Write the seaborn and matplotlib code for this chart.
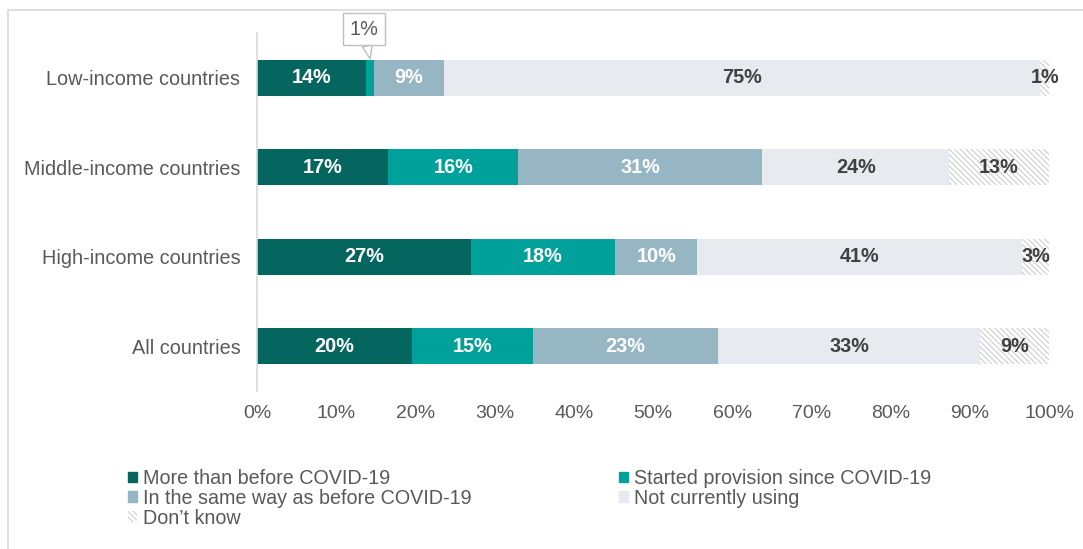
import matplotlib
matplotlib.use("Agg")
import numpy as np
import pandas as pd
import matplotlib.pyplot as plt
import matplotlib.patches as mpatches
import seaborn as sns

# Data (shares in %)
countries = ["Low-income countries", "Middle-income countries",
             "High-income countries", "All countries"]
series_names = ["More than before COVID-19", "Started provision since COVID-19",
                "In the same way as before COVID-19", "Not currently using",
                "Don\u2019t know"]
more_than_before = [13.8, 16.6, 27.0, 19.6]
started_since = [1.0, 16.4, 18.2, 15.2]
same_as_before = [8.8, 30.8, 10.4, 23.4]
not_using = [75.3, 23.6, 41.0, 33.1]
dont_know = [1.1, 12.6, 3.4, 8.7]

colors = ["#04665F", "#00A19A", "#96B6C3", "#E7EAEF", "white"]
label_colors = ["white", "white", "white", "#404040", "#404040"]
hatch_color = "#C8C8C8"
hatch = "\\" * 6

df = pd.DataFrame({
    "country": countries,
    series_names[0]: more_than_before,
    series_names[1]: started_since,
    series_names[2]: same_as_before,
    series_names[3]: not_using,
    series_names[4]: dont_know,
})
cum = df[series_names].cumsum(axis=1)

sns.set_style("white")
plt.rcParams["font.family"] = ["Liberation Sans", "DejaVu Sans"]
plt.rcParams["hatch.linewidth"] = 0.7

fig = plt.figure(figsize=(10.83, 5.49), dpi=100)
ax = fig.add_axes([257 / 1083, 1 - 391 / 549, (1049 - 257) / 1083, (391 - 33) / 549])

# Stacked bars: draw cumulative totals from the largest down so each overlays the previous
for i in range(len(series_names) - 1, -1, -1):
    kw = dict(color=colors[i], saturation=1, width=0.4, linewidth=0)
    if i == 4:
        kw.update(edgecolor=hatch_color, hatch=hatch)
    sns.barplot(x=cum[series_names[i]], y=df["country"], orient="h", ax=ax, **kw)

# Segment labels
for j in range(len(countries)):
    left = 0
    for i, name in enumerate(series_names):
        v = df.loc[j, name]
        if not (j == 0 and i == 1):
            ax.text(left + v / 2, j, f"{round(v)}%", ha="center", va="center",
                    fontsize=14.3, fontweight="bold", color=label_colors[i])
        left += v

# Callout for the thin 1% segment
ax.annotate("1%", xy=(14.3, -0.21), xytext=(13.45, -0.54), textcoords="data",
            ha="center", va="center", fontsize=14.3, color="#595959",
            bbox=dict(boxstyle="square,pad=0.33", fc="white", ec="#BFBFBF", lw=1),
            arrowprops=dict(arrowstyle="wedge,tail_width=0.5", fc="white",
                            ec="#BFBFBF", lw=1, shrinkA=0, shrinkB=0),
            annotation_clip=False)

ax.set_xlim(0, 100)
ax.set_ylim(3.5, -0.5)
ax.set_xticks(range(0, 101, 10))
ax.set_xticklabels([f"{t}%" for t in range(0, 101, 10)])
ax.set_xlabel("")
ax.set_ylabel("")
ax.tick_params(axis="both", length=0, labelsize=14, labelcolor="#595959")
ax.tick_params(axis="y", pad=12, labelsize=14.3)
ax.tick_params(axis="x", pad=10)
for s in ["top", "right", "bottom"]:
    ax.spines[s].set_visible(False)
ax.spines["left"].set_color("#D9D9D9")
ax.spines["left"].set_linewidth(1.2)

# Legend (column-wise order so rows read: More/Started, Same/Not using, Don't know)
handles = [mpatches.Patch(facecolor=colors[i], edgecolor=colors[i], label=series_names[i])
           for i in range(4)]
handles.append(mpatches.Patch(facecolor="white", edgecolor=hatch_color, hatch=hatch,
                              linewidth=0, label=series_names[4]))
order = [0, 2, 4, 1, 3]
fig.legend([handles[k] for k in order], [series_names[k] for k in order],
           loc="upper left", bbox_to_anchor=(128 / 1083, 1 - 469 / 549), ncol=2,
           frameon=False, fontsize=14.2, labelcolor="#595959", handlelength=0.45,
           handleheight=0.45, handletextpad=0.3, labelspacing=0.04,
           columnspacing=7.5, borderpad=0, borderaxespad=0)

# Light frame around the figure
fig.patches.append(mpatches.Rectangle((8 / 1083, -0.05), 1.2, 1 - 10 / 549 + 0.05,
                                      transform=fig.transFigure, fill=False,
                                      ec="#D9D9D9", lw=1.2))

fig.savefig("out.png", dpi=100)
